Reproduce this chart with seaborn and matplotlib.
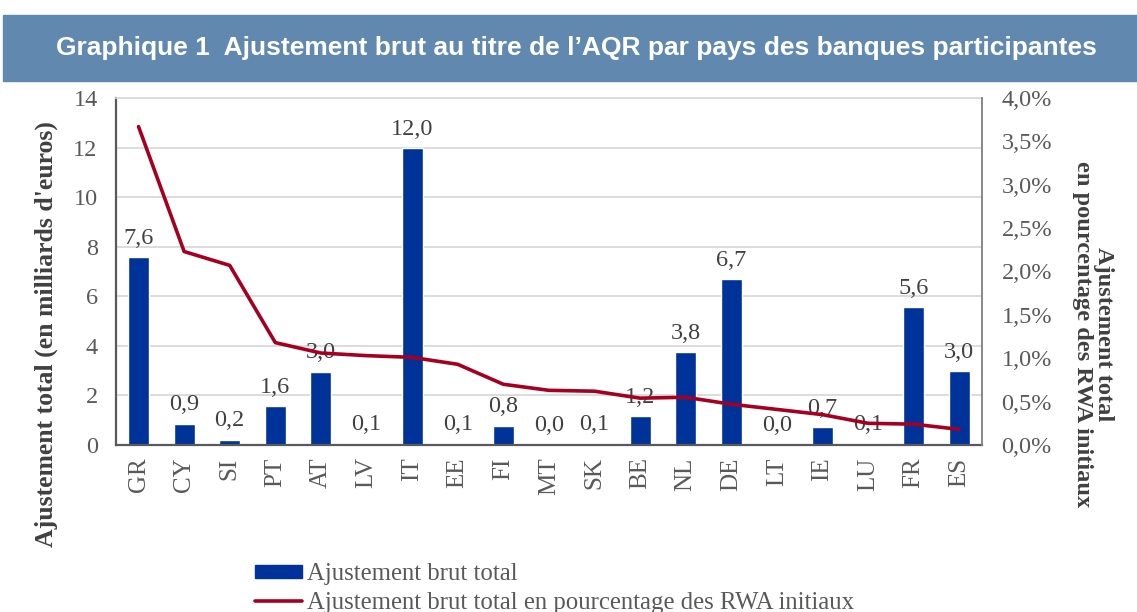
# %% data
import numpy as np
import pandas as pd
import seaborn as sns
import matplotlib.pyplot as plt
from matplotlib.patches import Rectangle, Patch
from matplotlib.lines import Line2D
from matplotlib.ticker import FuncFormatter, MultipleLocator

countries = ["GR", "CY", "SI", "PT", "AT", "LV", "IT", "EE", "FI", "MT",
             "SK", "BE", "NL", "DE", "LT", "IE", "LU", "FR", "ES"]
# gross adjustment, bn EUR
adjust_bn = [7.57, 0.86, 0.22, 1.56, 2.96, 0.06, 11.98, 0.06, 0.78, 0.02,
             0.08, 1.17, 3.75, 6.68, 0.02, 0.71, 0.08, 5.57, 2.99]
# adjustment as % of initial RWA
adjust_pct = [3.67, 2.23, 2.07, 1.18, 1.06, 1.03, 1.01, 0.93, 0.70, 0.63,
              0.62, 0.54, 0.55, 0.47, 0.41, 0.35, 0.25, 0.24, 0.18]

df = pd.DataFrame({"pays": countries, "mds": adjust_bn, "pct": adjust_pct})
df["pos"] = np.arange(len(df))

# %% style
sns.set_theme(style="white")
plt.rcParams["font.family"] = ["Liberation Serif", "DejaVu Serif"]

BLUE = "#003399"
RED = "#a50021"
GREY_TXT = "#595959"
DARK_TXT = "#404040"
FS = 17.5

fig = plt.figure(figsize=(11.37, 6.12), dpi=100)
ax1 = fig.add_axes([0.1018, 0.2729, 0.7619, 0.5670])

# %% bars
sns.barplot(data=df, x="pays", y="mds", color=BLUE, saturation=1,
            width=0.46, ax=ax1)
ax1.bar_label(ax1.containers[0],
              labels=[f"{v:.1f}".replace(".", ",") for v in adjust_bn],
              padding=6, fontsize=FS, color=DARK_TXT)

ax1.set_ylim(0, 14)
ax1.yaxis.set_major_locator(MultipleLocator(2))
ax1.yaxis.grid(True, color="#d9d9d9", lw=1.3)
ax1.set_axisbelow(True)
ax1.set_xlabel("")
ax1.set_ylabel("")
ax1.tick_params(axis="y", length=0, pad=13, labelsize=FS, labelcolor=GREY_TXT)
ax1.tick_params(axis="x", length=0, pad=9, labelsize=18, labelcolor=GREY_TXT,
                labelrotation=90)

# %% line on secondary axis
ax2 = ax1.twinx()
sns.lineplot(data=df, x="pos", y="pct", color=RED, lw=2.6, ax=ax2)
ax2.set_ylim(0, 4)
ax2.yaxis.set_major_locator(MultipleLocator(0.5))
ax2.yaxis.set_major_formatter(
    FuncFormatter(lambda v, _: f"{v:.1f}%".replace(".", ",")))
ax2.set_ylabel("")
ax2.tick_params(axis="y", length=0, pad=14, labelsize=FS, labelcolor=GREY_TXT)
ax1.set_xlim(-0.5, len(countries) - 0.5)

# spines
for side in ["left", "bottom"]:
    ax1.spines[side].set_color("#595959")
    ax1.spines[side].set_linewidth(1.6)
ax1.spines["top"].set_color("#d9d9d9")
ax1.spines["right"].set_visible(False)
for side in ["left", "bottom", "top"]:
    ax2.spines[side].set_visible(False)
ax2.spines["right"].set_color("#7f7f7f")
ax2.spines["right"].set_linewidth(1.3)

# %% axis titles
fig.text(0.041, 0.454, "Ajustement total (en milliards d'euros)",
         rotation=90, ha="center", va="center", fontsize=18.5,
         fontweight="bold", color=DARK_TXT)
fig.text(0.961, 0.454, "Ajustement total\nen pourcentage des RWA initiaux",
         rotation=270, ha="center", va="center", fontsize=17.6,
         fontweight="bold", color=DARK_TXT, linespacing=1.0,
         multialignment="center")

# %% title banner
fig.patches.append(Rectangle((0.003, 1 - 81 / 612), 0.997, 66 / 612,
                             transform=fig.transFigure, color="#6189b0",
                             zorder=0))
fig.text(0.507, 1 - 48 / 612,
         "Graphique 1  Ajustement brut au titre de l’AQR par pays des banques participantes",
         ha="center", va="center", fontsize=19, fontweight="bold",
         color="white", family=["Liberation Sans", "DejaVu Sans"])

# %% legend
handles = [Patch(facecolor=BLUE, edgecolor=BLUE),
           Line2D([], [], color=RED, lw=2.6)]
labels = ["Ajustement brut total",
          "Ajustement brut total en pourcentage des RWA initiaux"]
fig.legend(handles, labels, loc="upper left",
           bbox_to_anchor=(0.224, 1 - 563 / 612), frameon=False,
           fontsize=17.8, labelcolor=GREY_TXT, handlelength=1.9,
           handleheight=0.45, handletextpad=0.2, labelspacing=0.28,
           borderpad=0, borderaxespad=0)

fig.savefig("out.png", dpi=100)
